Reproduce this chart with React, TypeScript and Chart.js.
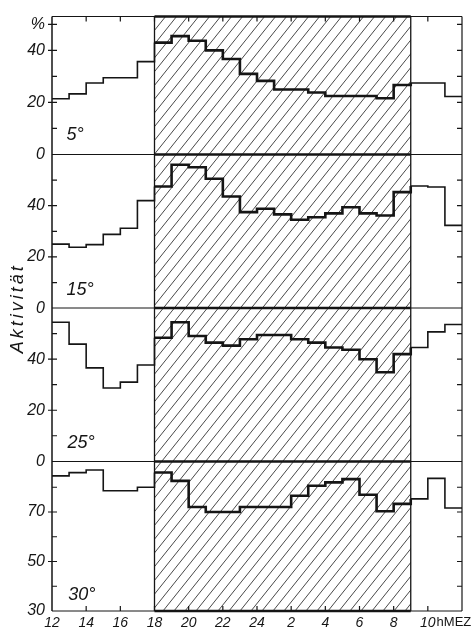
import React, { useEffect, useRef } from 'react';
import { Chart, registerables } from 'chart.js';

Chart.register(...registerables);

// start hour of each 1-hour interval (24 = midnight, 25 = 1h next day ...)
const HOUR_STARTS = [12, 13, 14, 15, 16, 17, 18, 19, 20, 21, 22, 23, 24, 25, 26, 27, 28, 29, 30, 31, 32, 33, 34, 35];
const HOUR_END = 36;

// activity (%) per hour, four temperatures
const ACT_5 = [21.4, 23.3, 27.5, 29.5, 29.5, 35.7, 43, 45.5, 43.7, 40, 36.7, 31, 28.3, 25, 25, 23.8, 22.5, 22.5, 22.5, 21.6, 26.7, 27.5, 27.5, 22.3];
const ACT_15 = [25, 23.8, 24.8, 28.8, 31.2, 42, 47.5, 56, 55, 50.5, 43.6, 37.5, 38.8, 36.6, 34.5, 35.5, 37, 39.4, 37, 36.2, 45.3, 47.7, 47.3, 32.3];
const ACT_25 = [54.5, 45.9, 36.6, 28.7, 31, 37.7, 48.4, 54.5, 49.1, 46.5, 45.3, 47.8, 49.5, 49.5, 47.8, 46.5, 44.6, 43.7, 40, 34.9, 42, 44.6, 50.7, 53.6];
const ACT_30 = [84.6, 85.9, 87, 78.6, 78.6, 80, 86, 82.6, 72, 70, 70, 72, 72, 72, 76.6, 80.6, 82, 83.3, 77, 70.3, 73.3, 75.3, 83.6, 71.6];

const X_TICKS = [12, 14, 16, 18, 20, 22, 24, 26, 28, 30, 32, 34, 36];
const X_TICK_LABELS = ['12', '14', '16', '18', '20', '22', '24', '2', '4', '6', '8', '10', ''];
const X_UNIT = 'hMEZ';
const NIGHT_HOURS = [18, 33];

const Y_TICKS_5 = [0, 20, 40, 50];
const Y_LABELS_5 = ['0', '20', '40', '%'];
const Y_TICKS_15 = [0, 20, 40];
const Y_LABELS_15 = ['0', '20', '40'];
const Y_TICKS_25 = [0, 20, 40];
const Y_LABELS_25 = ['0', '20', '40'];
const Y_TICKS_30 = [30, 50, 70];
const Y_LABELS_30 = ['30', '50', '70'];

const PANEL_NAMES = ['5°', '15°', '25°', '30°'];
const Y_TITLE = 'Aktivität';

const INK = '#151515';
const FONT = '"Liberation Sans", Arial, sans-serif';

type Panel = {
  id: string; values: number[]; min: number; max: number; weight: number;
  ticks: number[]; labels: string[]; name: string; nameX: number; nameY: number;
};

const PANELS: Panel[] = [
  { id: 'y5', values: ACT_5, min: 0, max: 53, weight: 140, ticks: Y_TICKS_5, labels: Y_LABELS_5, name: PANEL_NAMES[0], nameX: 12.85, nameY: 7.4 },
  { id: 'y15', values: ACT_15, min: 0, max: 60, weight: 156, ticks: Y_TICKS_15, labels: Y_LABELS_15, name: PANEL_NAMES[1], nameX: 12.85, nameY: 7.1 },
  { id: 'y25', values: ACT_25, min: 0, max: 60, weight: 155.5, ticks: Y_TICKS_25, labels: Y_LABELS_25, name: PANEL_NAMES[2], nameX: 12.9, nameY: 7.3 },
  { id: 'y30', values: ACT_30, min: 30, max: 90.5, weight: 152, ticks: Y_TICKS_30, labels: Y_LABELS_30, name: PANEL_NAMES[3], nameX: 12.95, nameY: 36.4 },
];

const framePlugin = {
  id: 'frame',
  beforeDatasetsDraw(chart: any) {
    const { ctx, chartArea: a, scales } = chart;
    const xs = scales.x;
    const xa = xs.getPixelForValue(NIGHT_HOURS[0]);
    const xb = xs.getPixelForValue(NIGHT_HOURS[1]);
    ctx.save();
    // hatching
    ctx.save();
    ctx.beginPath();
    ctx.rect(xa, a.top, xb - xa, a.bottom - a.top);
    ctx.clip();
    ctx.strokeStyle = '#333';
    ctx.lineWidth = 0.9;
    const h = a.bottom - a.top;
    const run = h * 0.8;
    ctx.beginPath();
    for (let s = xa - run; s <= xb + 2; s += 11) {
      ctx.moveTo(s, a.bottom);
      ctx.lineTo(s + run, a.top);
    }
    ctx.stroke();
    ctx.restore();

    ctx.strokeStyle = INK;
    // panel boundaries
    const bounds: number[] = [];
    PANELS.forEach((p) => {
      const s = scales[p.id];
      bounds.push(s.top, s.bottom);
    });
    const uniq = Array.from(new Set(bounds.map((b) => Math.round(b * 2) / 2)));
    uniq.forEach((y) => {
      ctx.lineWidth = 1;
      ctx.beginPath();
      ctx.moveTo(a.left, y);
      ctx.lineTo(a.right, y);
      ctx.stroke();
      ctx.lineWidth = 2.7;
      ctx.beginPath();
      ctx.moveTo(xa, y);
      ctx.lineTo(xb, y);
      ctx.stroke();
    });
    // verticals
    const vline = (x: number, w: number) => {
      ctx.lineWidth = w;
      ctx.beginPath();
      ctx.moveTo(x, a.top);
      ctx.lineTo(x, a.bottom);
      ctx.stroke();
    };
    vline(a.left, 1.5);
    vline(xa, 1.3);
    vline(xb, 1.3);
    vline(a.right, 1.2);
    // y tick marks
    ctx.lineWidth = 1.2;
    PANELS.forEach((p) => {
      const s = scales[p.id];
      for (let v = Math.ceil(p.min / 10) * 10; v <= p.max; v += 10) {
        const y = s.getPixelForValue(v);
        if (Math.abs(y - s.top) < 3 || Math.abs(y - s.bottom) < 3) continue;
        const major = p.ticks.includes(v);
        ctx.beginPath();
        ctx.moveTo(a.left - (major ? 4 : 0), y);
        ctx.lineTo(a.left + 5, y);
        ctx.moveTo(a.right - 5, y);
        ctx.lineTo(a.right, y);
        ctx.stroke();
      }
    });
    // x tick marks top & bottom
    X_TICKS.forEach((t) => {
      if (t <= xs.min || t >= xs.max) return;
      const x = xs.getPixelForValue(t);
      ctx.beginPath();
      ctx.moveTo(x, a.top);
      ctx.lineTo(x, a.top + 5);
      ctx.moveTo(x, a.bottom);
      ctx.lineTo(x, a.bottom - 5);
      ctx.stroke();
    });
    ctx.restore();
  },
  afterDraw(chart: any) {
    const { ctx, chartArea: a, scales } = chart;
    const xs = scales.x;
    ctx.save();
    ctx.fillStyle = INK;
    // panel names
    ctx.font = `italic 18px ${FONT}`;
    ctx.textAlign = 'left';
    ctx.textBaseline = 'middle';
    PANELS.forEach((p) => {
      ctx.fillText(p.name, xs.getPixelForValue(p.nameX), scales[p.id].getPixelForValue(p.nameY));
    });
    // y title
    ctx.save();
    ctx.font = `italic 18px ${FONT}`;
    (ctx as any).letterSpacing = '3px';
    ctx.translate(18, scales.y15.bottom);
    ctx.rotate(-Math.PI / 2);
    ctx.textAlign = 'center';
    ctx.textBaseline = 'middle';
    ctx.fillText(Y_TITLE, 0, 0);
    ctx.restore();
    // unit after last labelled hour
    ctx.font = `italic 14px ${FONT}`;
    const lastIdx = X_TICK_LABELS.length - 2;
    const lx = xs.getPixelForValue(X_TICKS[lastIdx]) + ctx.measureText(X_TICK_LABELS[lastIdx]).width / 2 + 1;
    ctx.font = `13px ${FONT}`;
    ctx.textAlign = 'left';
    ctx.textBaseline = 'top';
    ctx.fillText(X_UNIT, lx, a.bottom + 5);
    ctx.restore();
  },
};

export default function App() {
  const ref = useRef<HTMLCanvasElement>(null);
  useEffect(() => {
    const scales: any = {
      x: {
        type: 'linear',
        min: 12,
        max: HOUR_END,
        grid: { display: false, drawTicks: false },
        border: { display: false },
        afterBuildTicks: (s: any) => { s.ticks = X_TICKS.map((v) => ({ value: v })); },
        afterFit: (s: any) => { s.height = 20; },
        ticks: {
          autoSkip: false,
          maxRotation: 0,
          padding: 4,
          color: INK,
          font: { family: FONT, size: 14, style: 'italic' },
          callback: (v: number) => X_TICK_LABELS[X_TICKS.indexOf(v)] ?? '',
        },
      },
    };
    [...PANELS].reverse().forEach((p) => {
      scales[p.id] = {
        type: 'linear',
        position: 'left',
        stack: 'panels',
        stackWeight: p.weight,
        min: p.min,
        max: p.max,
        grid: { display: false, drawTicks: false },
        border: { display: false },
        afterBuildTicks: (s: any) => { s.ticks = p.ticks.map((v) => ({ value: v })); },
        afterFit: (s: any) => { s.width = 52; },
        ticks: {
          autoSkip: false,
          padding: 7,
          color: INK,
          font: { family: FONT, size: 16, style: 'italic' },
          callback: (v: number) => p.labels[p.ticks.indexOf(v)] ?? '',
        },
      };
    });
    const datasets = PANELS.map((p) => ({
      label: p.name,
      yAxisID: p.id,
      xAxisID: 'x',
      data: [
        ...p.values.map((v, i) => ({ x: HOUR_STARTS[i], y: v })),
        { x: HOUR_END, y: p.values[p.values.length - 1] },
      ],
      stepped: 'before' as const,
      borderColor: INK,
      borderWidth: 1.6,
      pointRadius: 0,
      fill: false,
      segment: {
        borderWidth: (c: any) => (c.p0.parsed.x >= NIGHT_HOURS[0] && c.p0.parsed.x < NIGHT_HOURS[1] ? 2.6 : 1.6),
      },
    }));
    const chart = new Chart(ref.current!, {
      type: 'line',
      data: { datasets },
      options: {
        animation: false,
        responsive: false,
        layout: { padding: { top: 8, right: 11, left: 0, bottom: 0 } },
        plugins: { legend: { display: false }, tooltip: { enabled: false } },
        scales,
      },
      plugins: [framePlugin],
    } as any);
    return () => chart.destroy();
  }, []);
  return (
    <div style={{ position: 'fixed', left: 0, top: 0, width: 473, height: 631, background: '#fff' }}>
      <canvas ref={ref} width={473} height={631} style={{ display: 'block', width: 473, height: 631 }} />
    </div>
  );
}
